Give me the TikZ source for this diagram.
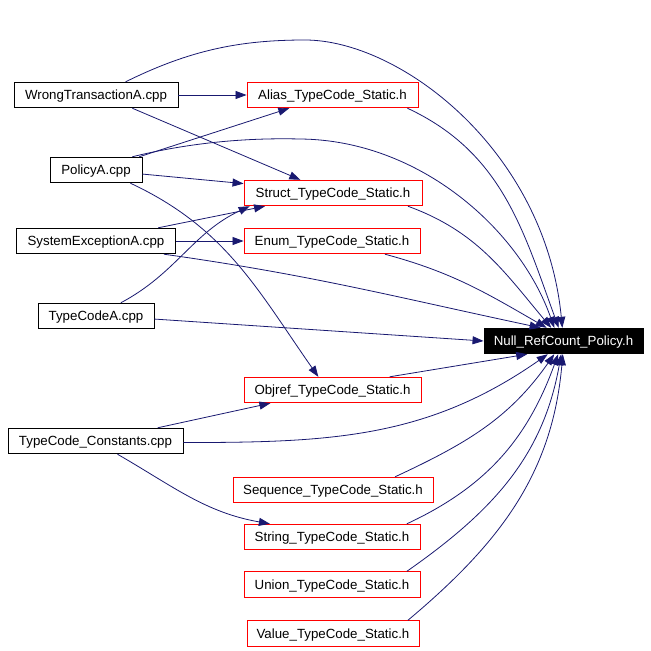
\documentclass[tikz,border=0pt]{standalone}
\usepackage{fontspec}
\setmainfont{Liberation Sans}
\usepackage{tkz-euclide}
\usetikzlibrary{arrows.meta}
\definecolor{edgeblue}{HTML}{191970}
\tikzset{
  file/.style={draw=black, line width=0.9pt, minimum height=25.5pt, inner sep=0pt,
    text height=9.5pt, text depth=0pt, font=\fontsize{13.3}{15}\selectfont},
  hfile/.style={file, draw=red},
  focus/.style={file, fill=black, text=white},
  dep/.style={draw=edgeblue, line width=0.8pt, -{Triangle[length=11pt,width=8pt]}}
}
\begin{document}
\begin{tikzpicture}[x=1pt, y=-1pt]
    \useasboundingbox (0,0) rectangle (651,651);
    \tkzDefPoints{96/95/W,332.5/95/A,96/170/P,333/193/S,96/241/X,332/241/E,96/316/T,
      563.5/341/N,332.5/390/O,95.5/441/C,333/490/Q,332/537/R,332/584.5/U,333/633.5/V}
    \node[file, minimum width=164pt] (W) at (W) {WrongTransactionA.cpp};
    \node[hfile, minimum width=171pt] (A) at (A) {Alias\_TypeCode\_Static.h};
    \node[file, minimum width=92pt] (P) at (P) {PolicyA.cpp};
    \node[hfile, minimum width=178pt] (S) at (S) {Struct\_TypeCode\_Static.h};
    \node[file, minimum width=159pt] (X) at (X) {SystemExceptionA.cpp};
    \node[hfile, minimum width=176pt] (E) at (E) {Enum\_TypeCode\_Static.h};
    \node[file, minimum width=116pt] (T) at (T) {TypeCodeA.cpp};
    \node[focus, minimum width=159pt] (N) at (N) {Null\_RefCount\_Policy.h};
    \node[hfile, minimum width=177pt] (O) at (O) {Objref\_TypeCode\_Static.h};
    \node[file, minimum width=175pt] (C) at (C) {TypeCode\_Constants.cpp};
    \node[hfile, minimum width=200pt] (Q) at (Q) {Sequence\_TypeCode\_Static.h};
    \node[hfile, minimum width=176pt] (R) at (R) {String\_TypeCode\_Static.h};
    \node[hfile, minimum width=176pt] (U) at (U) {Union\_TypeCode\_Static.h};
    \node[hfile, minimum width=172pt] (V) at (V) {Value\_TypeCode\_Static.h};
    % sources on the left
    \draw[dep] (W.east) -- (A.west);
    \draw[dep] (W.-20) -- (S.158);
    \draw[dep] (W.24) .. controls (190,50) and (240,40) .. (305,40) .. controls (400,40) and (545,150) .. (N.95);
    \draw[dep] (P.17) -- (A.-163);
    \draw[dep] (P.-5) -- (S.174);
    \draw[dep] (P.20) .. controls (200,140) and (260,138) .. (300,139) .. controls (420,140) and (520,230) .. (N.125);
    \draw[dep] (P.-21) to[out=-25, in=125] (O.137);
    \draw[dep] (X.12) -- (S.-169);
    \draw[dep] (X.east) -- (E.west);
    \draw[dep] (X.-11) to[out=-8, in=168] (N.150);
    \draw[dep] (T.28) to[out=28, in=-155] (S.-171);
    \draw[dep] (T.-3) -- (N.west);
    \draw[dep] (C.12) -- (O.-168);
    \draw[dep] (C.-1) to[out=0, in=-145] (N.-140);
    \draw[dep] (C.-31) to[out=-30, in=170] (R.168);
    % headers into the policy
    \draw[dep] (A.-10) to[out=-25, in=110] (N.110);
    \draw[dep] (S.-10) to[out=-20, in=130] (N.133);
    \draw[dep] (E.-14) to[out=-15, in=150] (N.142);
    \draw[dep] (O.13) -- (N.-160);
    \draw[dep] (Q.12) to[out=25, in=-125] (N.-125);
    \draw[dep] (R.10) to[out=25, in=-110] (N.-112);
    \draw[dep] (U.10) to[out=35, in=-100] (N.-100);
    \draw[dep] (V.10) to[out=40, in=-95] (N.-93);
\end{tikzpicture}
\end{document}
